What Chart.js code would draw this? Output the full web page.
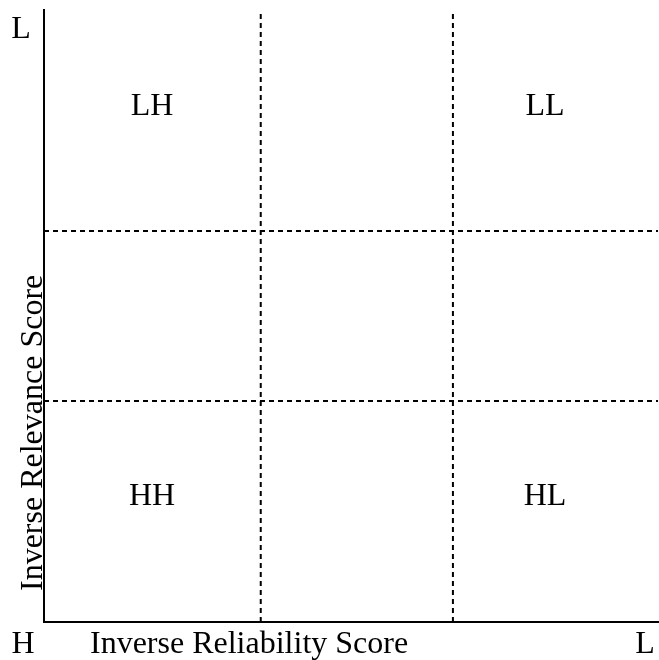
<!DOCTYPE html>
<html>
<head>
<meta charset="utf-8">
<script src="https://cdn.jsdelivr.net/npm/chart.js@4"></script>
<style>
html, body { margin: 0; padding: 0; background: #fff; }
#wrap { width: 659px; height: 660px; }
</style>
</head>
<body>
<div id="wrap"><canvas id="chartCanvas"></canvas></div>
<script>
// akse-titler og hjørne-etiketter
var xTitle = 'Inverse Reliability Score'
var yTitle = 'Inverse Relevance Score'
var cornerLabels = ['L', 'H', 'L']   // top venstre, nederst venstre, nederst højre

// skillelinjer (i data-enheder 0..100)
var xSplits = [35.3, 66.6]
var ySplits = [36.1, 63.9]

// kvadrant-navne og deres midtpunkter
var quadNames = ['LH', 'LL', 'HH', 'HL']
var quadX = [17.6, 81.6, 17.6, 81.6]
var quadY = [84.6, 84.6, 20.9, 20.9]

var font = '32px "Liberation Serif", "Times New Roman", serif'

// byg stiplede linjer som datasets
var datasets = []
xSplits.map(v => {
    datasets.push({ data: [{x: v, y: 0}, {x: v, y: 100}] })
})
ySplits.map(v => {
    datasets.push({ data: [{x: 0, y: v}, {x: 100, y: v}] })
})
datasets = datasets.map(d => Object.assign(d, {
    showLine: true,
    borderColor: '#000',
    borderWidth: 2,
    borderDash: [5, 4],
    pointRadius: 0,
    fill: false
}))

var textPlugin = {
    id: 'textPlugin',
    afterDraw(chart) {
        var ctx = chart.ctx
        var a = chart.chartArea
        var xs = chart.scales.x
        var ys = chart.scales.y
        ctx.save()
        ctx.fillStyle = '#000'
        ctx.font = font
        ctx.textBaseline = 'alphabetic'
        ctx.textAlign = 'center'
        // kvadrant-etiketter, centreret på versalhøjden
        quadNames.map((name, i) => {
            ctx.fillText(name, xs.getPixelForValue(quadX[i]), ys.getPixelForValue(quadY[i]) + 10.5)
        })
        // hjørner
        ctx.fillText(cornerLabels[0], a.left - 23, a.top + 28)
        ctx.fillText(cornerLabels[1], a.left - 21, a.bottom + 31)
        ctx.fillText(cornerLabels[2], a.right - 13, a.bottom + 31)
        // x-titel
        ctx.textAlign = 'left'
        ctx.fillText(xTitle, a.left + 46, a.bottom + 31)
        // y-titel, drejet
        ctx.translate(a.left - 2, a.bottom - 31)
        ctx.rotate(-Math.PI / 2)
        ctx.fillText(yTitle, 0, 0)
        ctx.restore()
    }
}

new Chart(document.getElementById('chartCanvas'), {
    type: 'scatter',
    data: { datasets: datasets },
    options: {
        responsive: true,
        maintainAspectRatio: false,
        animation: false,
        layout: { padding: { top: 10, right: 1, left: 0, bottom: 0 } },
        plugins: { legend: { display: false }, tooltip: { enabled: false } },
        scales: {
            x: {
                min: 0, max: 100,
                ticks: { display: false },
                grid: { display: false },
                border: { display: true, color: '#000', width: 2 },
                afterFit: s => { s.height = 38 }
            },
            y: {
                min: 0, max: 100,
                ticks: { display: false },
                grid: { display: false },
                border: { display: true, color: '#000', width: 2 },
                afterFit: s => { s.width = 44 }
            }
        }
    },
    plugins: [textPlugin]
})
</script>
</body>
</html>
